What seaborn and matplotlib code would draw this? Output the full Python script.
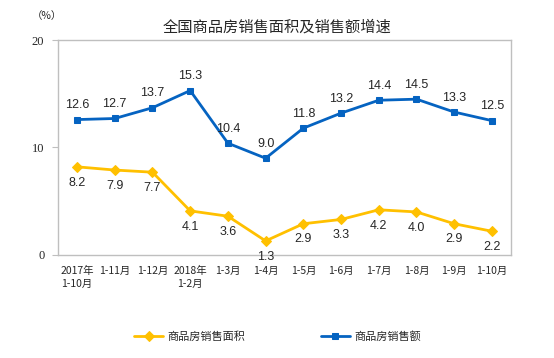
import matplotlib
matplotlib.use("Agg")
import matplotlib.pyplot as plt
import seaborn as sns
import numpy as np
import pandas as pd

categories = ["2017年\n1-10月", "1-11月", "1-12月", "2018年\n1-2月", "1-3月", "1-4月",
              "1-5月", "1-6月", "1-7月", "1-8月", "1-9月", "1-10月"]
area_growth = [8.2, 7.9, 7.7, 4.1, 3.6, 1.3, 2.9, 3.3, 4.2, 4.0, 2.9, 2.2]
sales_growth = [12.6, 12.7, 13.7, 15.3, 10.4, 9.0, 11.8, 13.2, 14.4, 14.5, 13.3, 12.5]
series_names = ["商品房销售面积", "商品房销售额"]

sns.set_style("white")
plt.rcParams['font.family'] = ['Noto Sans CJK SC', 'DejaVu Sans']

yellow = "#FFC000"
blue = "#0563C1"

df = pd.DataFrame({"pos": np.arange(len(categories)),
                   "area": area_growth, "sales": sales_growth})

fig = plt.figure(figsize=(5.54, 3.58), dpi=100)
ax = fig.add_axes([0.105, 0.288, 0.817, 0.600])

sns.lineplot(data=df, x="pos", y="area", ax=ax, color=yellow, marker="D",
             markersize=5, markeredgecolor=yellow, linewidth=2, label=series_names[0])
sns.lineplot(data=df, x="pos", y="sales", ax=ax, color=blue, marker="s",
             markersize=5, markeredgecolor=blue, linewidth=2, label=series_names[1])

# data labels
for i, v in enumerate(area_growth):
    ax.annotate(f"{v:.1f}", (i, v), xytext=(0, -7), textcoords="offset points",
                ha="center", va="top", fontsize=9, family=["Liberation Sans"])
for i, v in enumerate(sales_growth):
    ax.annotate(f"{v:.1f}", (i, v), xytext=(0, 6), textcoords="offset points",
                ha="center", va="bottom", fontsize=9, family=["Liberation Sans"])

ax.set_xlim(-0.5, len(categories) - 0.5)
ax.set_ylim(0, 20)
ax.set_yticks([0, 10, 20])
ax.set_yticklabels(["0", "10", "20"], family=["Liberation Serif"], fontsize=9)
ax.set_xticks(np.arange(len(categories)))
ax.set_xticklabels(categories, fontsize=7.5, linespacing=1.4)
ax.tick_params(axis="x", which="major", length=0, pad=8)
ax.set_xticks(np.arange(len(categories) + 1) - 0.5, minor=True)
ax.tick_params(axis="x", which="minor", length=4, direction="in", color="#BFBFBF")
ax.tick_params(axis="y", length=4, direction="out", color="#BFBFBF", left=True, pad=6)

for s in ax.spines.values():
    s.set_color("#BFBFBF")
    s.set_linewidth(1)

ax.set_xlabel("")
ax.set_ylabel("")

fig.text(0.085, 0.955, "（%）", fontsize=7.5, ha="center", va="center")
fig.text(0.5, 0.925, "全国商品房销售面积及销售额增速", fontsize=11, ha="center",
         va="center", fontweight="medium")

ax.legend(loc="upper center", bbox_to_anchor=(0.485, -0.31), ncol=2, frameon=False,
          fontsize=8, columnspacing=6.8, handlelength=2.6, handletextpad=0.4)

fig.savefig("out.png", dpi=100)
